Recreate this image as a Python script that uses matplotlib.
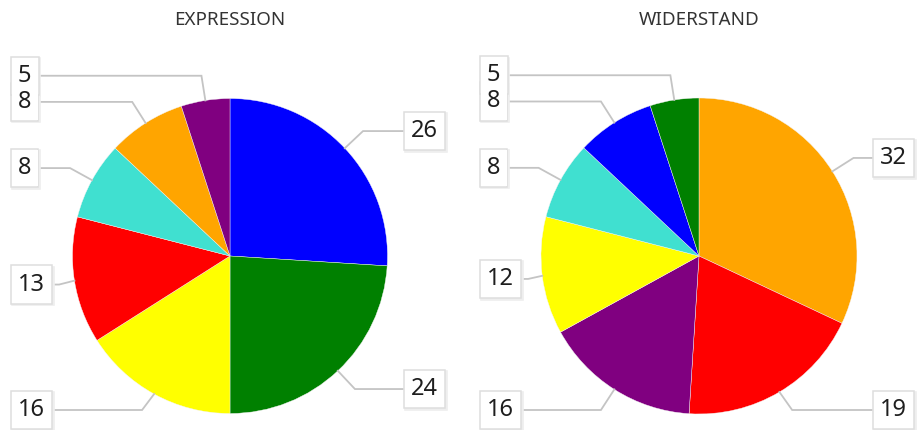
import matplotlib
matplotlib.use("Agg")
import matplotlib.pyplot as plt
import numpy as np

# chart data
titles = ["EXPRESSION", "WIDERSTAND"]
expr_values = [26, 24, 16, 13, 8, 8, 5]
expr_colors = ["blue", "green", "yellow", "red", "turquoise", "orange", "purple"]
wid_values = [32, 19, 16, 12, 8, 8, 5]
wid_colors = ["orange", "red", "purple", "yellow", "turquoise", "blue", "green"]

W, H = 920, 430
FONT = "Noto Sans"

fig = plt.figure(figsize=(W / 100, H / 100), dpi=100)
ax = fig.add_axes([0, 0, 1, 1])


def draw_pie(cx, cy, r, values, colors, title):
    # cx, cy in image pixels (y down); axes uses y up
    ax.pie(values, colors=colors, startangle=90, counterclock=False,
           center=(cx, H - cy), radius=r,
           wedgeprops=dict(linewidth=0.3, edgecolor="#f4f4f4"))
    ax.text(cx, H - 20, title, ha="center", va="center", fontsize=13.5,
            color="#333333", family=FONT)

    vals = np.array(values, dtype=float)
    mids = (np.cumsum(vals) - vals / 2) / vals.sum()
    labels = []
    for v, m in zip(values, mids):
        th = 2 * np.pi * m
        ex, ey = cx + r * np.sin(th), cy - r * np.cos(th)
        kx, ky = cx + (r + 25) * np.sin(th), cy - (r + 25) * np.cos(th)
        right = np.sin(th) >= 0
        ly = min(max(ky, 30), 410)
        tx = cx + 181 if right else cx - 212
        # shadow, border, face, then text so overlapping boxes merge
        ax.text(tx + 1.5, H - ly - 1.5, str(v), ha="left", va="center",
                fontsize=17, family=FONT, color="none", zorder=3,
                bbox=dict(boxstyle="square,pad=0.3", fc="#eeeeee",
                          ec="#eeeeee", lw=1.2))
        ax.text(tx, H - ly, str(v), ha="left", va="center", fontsize=17,
                family=FONT, color="none", zorder=3.5,
                bbox=dict(boxstyle="square,pad=0.3", fc="white",
                          ec="#dedede", lw=1.1))
        t = ax.text(tx, H - ly, str(v), ha="left", va="center", fontsize=17,
                    family=FONT, color="none", zorder=4,
                    bbox=dict(boxstyle="square,pad=0.26", fc="white",
                              ec="none"))
        ax.text(tx, H - ly, str(v), ha="left", va="center", fontsize=17,
                family=FONT, color="#1e1e1e", zorder=5)
        labels.append((t, right, ex, ey, kx, ly))
    return labels


all_labels = []
all_labels += draw_pie(230, 256, 157.5, expr_values, expr_colors, titles[0])
all_labels += draw_pie(699, 256, 158, wid_values, wid_colors, titles[1])

ax.set_xlim(0, W)
ax.set_ylim(0, H)
ax.set_aspect("equal")
ax.axis("off")

fig.canvas.draw()
rend = fig.canvas.get_renderer()
inv = ax.transData.inverted()
for t, right, ex, ey, kx, ly in all_labels:
    bb = t.get_bbox_patch().get_window_extent(rend)
    (x0, _), (x1, _) = inv.transform([[bb.x0, bb.y0], [bb.x1, bb.y1]])
    if right:
        bx = x0 - 2
        kx = min(kx, bx - 6)
    else:
        bx = x1 + 2
        kx = max(kx, bx + 6)
    ax.plot([ex, kx, bx], [H - ey, H - ly, H - ly], color="#c4c4c4",
            lw=1.3, zorder=2, solid_joinstyle="miter")

fig.savefig("out.png", dpi=100)
